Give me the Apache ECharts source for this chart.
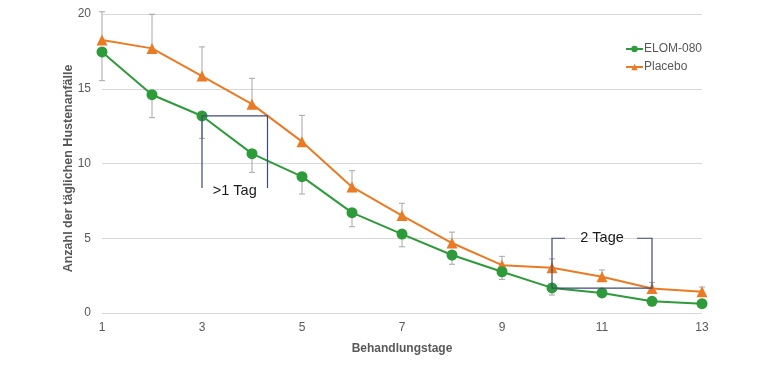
<!DOCTYPE html>
<html>
<head>
<meta charset="utf-8">
<script src="https://cdn.jsdelivr.net/npm/echarts@6/dist/echarts.min.js"></script>
<style>html,body{margin:0;padding:0;background:#fff}#c{width:770px;height:366px}</style>
</head>
<body>
<div id="c"></div>
<script>
// Data
const days = [1,2,3,4,5,6,7,8,9,10,11,12,13];
const elom = [17.46,14.6,13.18,10.66,9.12,6.71,5.28,3.88,2.76,1.68,1.34,0.78,0.62];
const placebo = [18.26,17.7,15.85,13.97,11.46,8.43,6.52,4.68,3.2,3.02,2.43,1.64,1.42];
const elomLower = [15.54,13.07,11.68,9.41,7.96,5.77,4.43,3.26,2.25,1.2,1.15,0.7,0.55];
const placeboUpper = [20.15,19.98,17.8,15.7,13.22,9.52,7.34,5.41,3.79,3.62,2.88,2.05,1.74];
const seriesNames = ['ELOM-080','Placebo'];
const xTitle = 'Behandlungstage';
const yTitle = 'Anzahl der täglichen Hustenanfälle';
// Annotation brackets (data units): [xStart, xEnd, level, edge, tickStart, tickEnd, label]
const bracket1 = [3, 4.31, 13.18, 8.36, null, null, '>1 Tag'];
const bracket2 = [10, 12, 1.67, 5.0, 10.26, 11.7, '2 Tage'];

const GREEN = '#2e9b3a', ORANGE = '#ea7b24', GRAY = '#595959', NAVY = '#3f4a78';

function errRender(params, api) {
  const x = api.value(0), a = api.value(1), b = api.value(2);
  const p1 = api.coord([x, a]), p2 = api.coord([x, b]);
  const w = 3;
  const st = {stroke: '#a6a6a6', lineWidth: 1};
  return {type: 'group', children: [
    {type: 'line', shape: {x1: p1[0], y1: p1[1], x2: p2[0], y2: p2[1]}, style: st},
    {type: 'line', shape: {x1: p2[0]-w, y1: p2[1], x2: p2[0]+w, y2: p2[1]}, style: st}
  ]};
}

function bracketRender(params, api) {
  const d = params.dataIndex === 0 ? bracket1 : bracket2;
  const [xa, xb, lvl, edge, ta, tb, label] = d;
  const pts = [];
  if (ta !== null) pts.push(api.coord([ta, edge]));
  pts.push(api.coord([xa, edge]), api.coord([xa, lvl]), api.coord([xb, lvl]), api.coord([xb, edge]));
  if (tb !== null) pts.push(api.coord([tb, edge]));
  const c = api.coord([(xa + xb) / 2, edge]);
  return {type: 'group', children: [
    {type: 'polyline', shape: {points: pts}, style: {stroke: NAVY, lineWidth: 1.2, fill: null}},
    {type: 'text', x: c[0], y: c[1] + (ta === null ? 3 : 0), style: {text: label, fill: '#1a1a1a', font: '14.5px "Liberation Sans", Arial, sans-serif', align: 'center', verticalAlign: 'middle'}}
  ]};
}

const chart = echarts.init(document.getElementById('c'));
chart.setOption({
  animation: false,
  backgroundColor: '#fff',
  textStyle: {fontFamily: '"Liberation Sans", Arial, sans-serif'},
  grid: {left: 102, right: 68, top: 14, bottom: 53, containLabel: false},
  legend: {
    data: seriesNames, orient: 'vertical', left: 620, top: 38, itemGap: 6,
    itemWidth: 17, itemHeight: 8,
    textStyle: {color: GRAY, fontSize: 12, padding: [0, 0, 0, -4]}
  },
  xAxis: {
    type: 'value', min: 1, max: 13, interval: 2,
    name: xTitle, nameLocation: 'middle', nameGap: 30,
    nameTextStyle: {color: GRAY, fontSize: 12, fontWeight: 'bold'},
    axisLine: {show: false}, axisTick: {show: false},
    axisLabel: {color: GRAY, fontSize: 12, margin: 9},
    splitLine: {show: false}
  },
  yAxis: {
    type: 'value', min: 0, max: 20, interval: 5,
    name: yTitle, nameLocation: 'middle', nameGap: 27, nameRotate: 90,
    nameMoveOverlap: false,
    nameTextStyle: {color: GRAY, fontSize: 12.5, fontWeight: 'bold', padding: [0, 10, 0, 0]},
    axisLine: {show: false}, axisTick: {show: false},
    axisLabel: {color: GRAY, fontSize: 12, margin: 11},
    splitLine: {lineStyle: {color: '#d9d9d9', width: 1}}
  },
  series: [
    {type: 'custom', name: 'errE', renderItem: errRender, silent: true, z: 1,
     data: days.map((d, i) => [d, elom[i], elomLower[i]])},
    {type: 'custom', name: 'errP', renderItem: errRender, silent: true, z: 1,
     data: days.map((d, i) => [d, placebo[i], placeboUpper[i]])},
    {type: 'line', name: seriesNames[1], data: days.map((d, i) => [d, placebo[i]]),
     symbol: 'triangle', symbolSize: 11, z: 3,
     lineStyle: {color: ORANGE, width: 2}, itemStyle: {color: ORANGE}},
    {type: 'line', name: seriesNames[0], data: days.map((d, i) => [d, elom[i]]),
     symbol: 'circle', symbolSize: 11, z: 4,
     lineStyle: {color: GREEN, width: 2}, itemStyle: {color: GREEN}},
    {type: 'custom', name: 'brackets', renderItem: bracketRender, silent: true, z: 5,
     data: [[bracket1[0], bracket1[2]], [bracket2[0], bracket2[2]]]}
  ]
});
</script>
</body>
</html>
